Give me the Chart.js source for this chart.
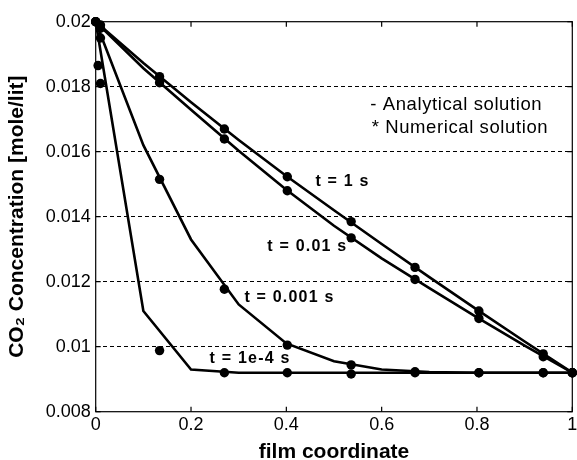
<!DOCTYPE html>
<html><head><meta charset="utf-8">
<script src="https://cdn.jsdelivr.net/npm/chart.js@4.4.1/dist/chart.umd.min.js"></script>
<style>html,body{margin:0;padding:0;background:#fff;}canvas{display:block;}</style>
</head><body>
<canvas id="c" width="577" height="460"></canvas>
<script>
// ---- data ----
const xAnalytical = [0, 0.1, 0.2, 0.3, 0.4, 0.5, 0.6, 0.7, 0.8, 0.9, 1];
const analytical_t1   = [0.02, 0.01873, 0.01752, 0.01636, 0.01525, 0.0142, 0.01316, 0.01214, 0.01114, 0.01016, 0.0092];
const analytical_t1e2 = [0.02, 0.01857, 0.01729, 0.01603, 0.01483, 0.01372, 0.01272, 0.0118, 0.0109, 0.01003, 0.0092];
const analytical_t1e3 = [0.02, 0.0162, 0.0133, 0.0113, 0.0101, 0.00955, 0.0093, 0.00922, 0.0092, 0.0092, 0.0092];
const analytical_t1e4 = [0.02, 0.0111, 0.0093, 0.0092, 0.0092, 0.0092, 0.0092, 0.0092, 0.0092, 0.0092, 0.0092];

const xNumerical = [0, 0.005, 0.01, 0.134, 0.27, 0.402, 0.536, 0.67, 0.804, 0.939, 1];
const numerical_t1   = [0.02, null, 0.0199, 0.01831, 0.0167, 0.01523, 0.01385, 0.01244, 0.0111, 0.00978, 0.0092];
const numerical_t1e2 = [0.02, null, 0.0198, 0.01812, 0.01639, 0.0148, 0.01335, 0.01207, 0.01087, 0.00969, 0.0092];
const numerical_t1e3 = [0.02, null, 0.0195, 0.01515, 0.01177, 0.01005, 0.00944, 0.00923, 0.0092, 0.0092, 0.0092];
const numerical_t1e4 = [0.02, 0.01865, 0.0181, 0.00988, 0.0092, 0.0092, 0.00916, 0.0092, 0.0092, 0.0092, 0.0092];

const xTicks = [0, 0.2, 0.4, 0.6, 0.8, 1];
const xTickLabels = ['0', '0.2', '0.4', '0.6', '0.8', '1'];
const yTicks = [0.008, 0.01, 0.012, 0.014, 0.016, 0.018, 0.02];
const yTickLabels = ['0.008', '0.01', '0.012', '0.014', '0.016', '0.018', '0.02'];

const xTitle = 'film coordinate';
const yTitle = 'CO\u2082 Concentration [mole/lit]';

const notes = [
  { text: '- Analytical solution', x: 0.576, y: 0.01744, bold: false },
  { text: '* Numerical solution',  x: 0.579, y: 0.01673, bold: false },
  { text: 't = 1 s',     x: 0.461, y: 0.01508, bold: true },
  { text: 't = 0.01 s',  x: 0.360, y: 0.01307, bold: true },
  { text: 't = 0.001 s', x: 0.312, y: 0.01150, bold: true },
  { text: 't = 1e-4 s',  x: 0.239, y: 0.00964, bold: true }
];

// ---- build datasets ----
const FONT = "'Liberation Sans', Arial, Helvetica, sans-serif";
function pts(xs, ys) {
  const out = [];
  xs.forEach((x, i) => { if (ys[i] !== null) out.push({ x: x, y: ys[i] }); });
  return out;
}
function lineDs(label, ys) {
  return { label, data: pts(xAnalytical, ys), showLine: true, borderColor: '#000',
    borderWidth: 2.6, pointRadius: 0, tension: 0, fill: false, clip: 4 };
}
function markDs(label, ys) {
  return { label, data: pts(xNumerical, ys), showLine: false, pointRadius: 4.7,
    pointBackgroundColor: '#000', pointBorderColor: '#000', pointBorderWidth: 0, clip: 8 };
}

const framePlugin = {
  id: 'frame',
  afterDatasetsDraw(chart) {
    const { ctx, chartArea: a, scales } = chart;
    ctx.save();
    ctx.strokeStyle = '#000';
    ctx.lineWidth = 1.2;
    ctx.strokeRect(a.left, a.top, a.right - a.left, a.bottom - a.top);
    ctx.beginPath();
    xTicks.forEach(v => {
      const px = scales.x.getPixelForValue(v);
      ctx.moveTo(px, a.top); ctx.lineTo(px, a.top + 5);
      ctx.moveTo(px, a.bottom); ctx.lineTo(px, a.bottom - 5);
    });
    yTicks.forEach(v => {
      const py = scales.y.getPixelForValue(v);
      ctx.moveTo(a.left, py); ctx.lineTo(a.left + 5, py);
      ctx.moveTo(a.right, py); ctx.lineTo(a.right - 5, py);
    });
    ctx.stroke();
    ctx.restore();
  },
  afterDraw(chart) {
    const { ctx, scales } = chart;
    ctx.save();
    ctx.fillStyle = '#000';
    ctx.textBaseline = 'middle';
    ctx.textAlign = 'left';
    notes.forEach(n => {
      ctx.font = n.bold ? ('bold 16px ' + FONT) : ('18.5px ' + FONT);
      try { ctx.letterSpacing = n.bold ? '1.2px' : '0.6px'; } catch (e) {}
      ctx.fillText(n.text, scales.x.getPixelForValue(n.x), scales.y.getPixelForValue(n.y));
    });
    ctx.restore();
  }
};

Chart.defaults.font.family = FONT;
Chart.defaults.color = '#000';

new Chart(document.getElementById('c'), {
  type: 'scatter',
  data: {
    datasets: [
      lineDs('Analytical t = 1 s', analytical_t1),
      lineDs('Analytical t = 0.01 s', analytical_t1e2),
      lineDs('Analytical t = 0.001 s', analytical_t1e3),
      lineDs('Analytical t = 1e-4 s', analytical_t1e4),
      markDs('Numerical t = 1 s', numerical_t1),
      markDs('Numerical t = 0.01 s', numerical_t1e2),
      markDs('Numerical t = 0.001 s', numerical_t1e3),
      markDs('Numerical t = 1e-4 s', numerical_t1e4)
    ]
  },
  options: {
    responsive: false,
    animation: false,
    devicePixelRatio: 1,
    layout: { padding: { left: 0, right: 2, top: 21.7, bottom: 0 } },
    plugins: { legend: { display: false }, tooltip: { enabled: false } },
    scales: {
      x: {
        type: 'linear', min: 0, max: 1,
        afterBuildTicks: s => { s.ticks = xTicks.map(v => ({ value: v })); },
        afterFit: s => { s.height = 48.3; s.paddingLeft = 0; s.paddingRight = 0; },
        ticks: { callback: (v, i) => xTickLabels[i], font: { size: 18 }, padding: 3, maxRotation: 0, autoSkip: false },
        grid: { display: false, drawTicks: false },
        border: { display: false },
        title: { display: true, text: xTitle, font: { size: 21, weight: 'bold', lineHeight: 0.7 }, padding: 0 }
      },
      y: {
        type: 'linear', min: 0.008, max: 0.02,
        afterBuildTicks: s => { s.ticks = yTicks.map(v => ({ value: v })); },
        afterFit: s => { s.width = 95.7; s.paddingTop = 0; s.paddingBottom = 0; },
        ticks: { callback: (v, i) => yTickLabels[i], font: { size: 18 }, padding: 5, autoSkip: false },
        grid: {
          drawTicks: false, lineWidth: 1,
          color: c => (c.tick && (c.tick.value <= 0.0081 || c.tick.value >= 0.0199)) ? 'rgba(0,0,0,0)' : '#000'
        },
        border: { display: false, dash: [4, 3] },
        title: { display: true, text: yTitle, font: { size: 21, weight: 'bold' }, padding: { top: 5, bottom: 0 } }
      }
    }
  },
  plugins: [framePlugin]
});
</script>
</body></html>
